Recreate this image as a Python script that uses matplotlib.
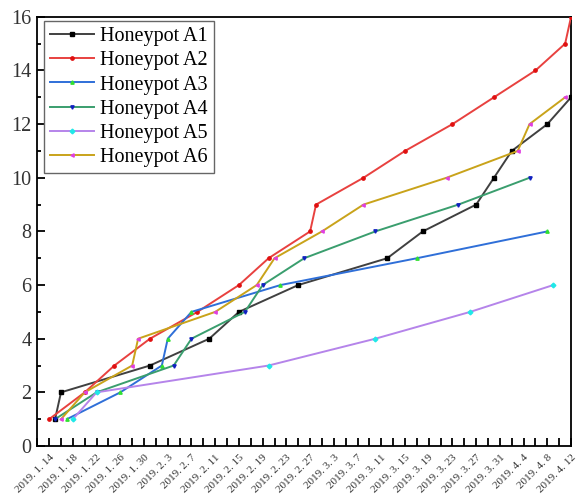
import numpy as np
import pandas as pd
import matplotlib
matplotlib.use('Agg')
import matplotlib.pyplot as plt
import matplotlib.transforms as mtransforms

#--------------------------------------------#
# data (date, cumulative count)
a1_dates = ['2019-01-15', '2019-01-16', '2019-01-31', '2019-02-10', '2019-02-15', '2019-02-25',
            '2019-03-12', '2019-03-18', '2019-03-27', '2019-03-30', '2019-04-02', '2019-04-08', '2019-04-12']
a1_vals = [1, 2, 3, 4, 5, 6, 7, 8, 9, 10, 11, 12, 13]

a2_dates = ['2019-01-14', '2019-01-20', '2019-01-25', '2019-01-31', '2019-02-08', '2019-02-15',
            '2019-02-20', '2019-02-27', '2019-02-28', '2019-03-08', '2019-03-15', '2019-03-23',
            '2019-03-30', '2019-04-06', '2019-04-11', '2019-04-12']
a2_vals = [1, 2, 3, 4, 5, 6, 7, 8, 9, 10, 11, 12, 13, 14, 15, 16]

a3_dates = ['2019-01-17', '2019-01-26', '2019-02-02', '2019-02-03', '2019-02-07', '2019-02-22',
            '2019-03-17', '2019-04-08']
a3_vals = [1, 2, 3, 4, 5, 6, 7, 8]

a4_dates = ['2019-01-15', '2019-01-22', '2019-02-04', '2019-02-07', '2019-02-16', '2019-02-19',
            '2019-02-26', '2019-03-10', '2019-03-24', '2019-04-05']
a4_vals = [1, 2, 3, 4, 5, 6, 7, 8, 9, 10]

a5_dates = ['2019-01-18', '2019-01-22', '2019-02-20', '2019-03-10', '2019-03-26', '2019-04-09']
a5_vals = [1, 2, 3, 4, 5, 6]

a6_dates = ['2019-01-16', '2019-01-20', '2019-01-28', '2019-01-29', '2019-02-11', '2019-02-18',
            '2019-02-21', '2019-03-01', '2019-03-08', '2019-03-22', '2019-04-03', '2019-04-05',
            '2019-04-11']
a6_vals = [1, 2, 3, 4, 5, 6, 7, 8, 9, 10, 11, 12, 13]

labels = ['Honeypot A1', 'Honeypot A2', 'Honeypot A3', 'Honeypot A4', 'Honeypot A5', 'Honeypot A6']

#--------------------------------------------#
# styles
line_colors = ['#404040', '#e8413f', '#2f6fd8', '#3a9e6e', '#b584ea', '#c9a31a']
mark_colors = ['#000000', '#e01010', '#30e030', '#1020c0', '#20e8e8', '#e040e0']
markers = ['s', 'o', '^', 'v', 'D', '<']

serif = ['Liberation Serif', 'DejaVu Serif']

fig = plt.figure(figsize=(5.78, 4.95), dpi=100)
ax = fig.add_axes([0.0645, 0.099, 0.9235, 0.867])

series = [(a1_dates, a1_vals), (a2_dates, a2_vals), (a3_dates, a3_vals),
          (a4_dates, a4_vals), (a5_dates, a5_vals), (a6_dates, a6_vals)]
for i, (d, v) in enumerate(series):
    ax.plot(pd.to_datetime(d), v, '-', color=line_colors[i], lw=1.4,
            marker=markers[i], ms=2.4, mfc=mark_colors[i], mec=mark_colors[i],
            label=labels[i], zorder=3)

# axes limits and ticks
x0 = pd.Timestamp('2019-01-12')
x1 = pd.Timestamp('2019-04-12')
ax.set_xlim(x0, x1)
ax.set_ylim(0, 16)

tick_days = pd.date_range(x0, x1, freq='2D')
tick_labels = [f'{t.year}. {t.month}. {t.day}' if k % 2 == 1 else ''
               for k, t in enumerate(tick_days)]
ax.set_xticks(tick_days)
ax.set_xticklabels(tick_labels, rotation=45, ha='right', va='top',
                   rotation_mode='anchor', fontsize=8, family=serif, color='#333333')
offset = mtransforms.ScaledTranslation(6 / 72, 0, fig.dpi_scale_trans)
for lab in ax.get_xticklabels():
    lab.set_transform(lab.get_transform() + offset)

ax.set_yticks(np.arange(0, 17, 2))
ax.set_yticks(np.arange(1, 16, 2), minor=True)
for lab in ax.get_yticklabels():
    lab.set_family(serif)
    lab.set_fontsize(14.5)
    lab.set_color('#333333')

ax.tick_params(axis='x', which='major', direction='in', length=6, width=1.3, pad=5)
ax.tick_params(axis='y', which='major', direction='in', length=6, width=1.3, pad=4)
ax.tick_params(axis='y', which='minor', direction='in', length=3, width=1.3)
ax.tick_params(top=False, right=False)
for s in ax.spines.values():
    s.set_linewidth(1.3)
    s.set_color('black')

leg = ax.legend(loc='upper left', bbox_to_anchor=(0.012, 0.99), prop={'family': serif, 'size': 14.5},
                fancybox=False, framealpha=1, edgecolor='#666666', handlelength=2.2,
                labelspacing=0.25, borderpad=0.3, handletextpad=0.3, borderaxespad=0)
leg.get_frame().set_linewidth(1.0)

fig.savefig('out.png', dpi=100)
